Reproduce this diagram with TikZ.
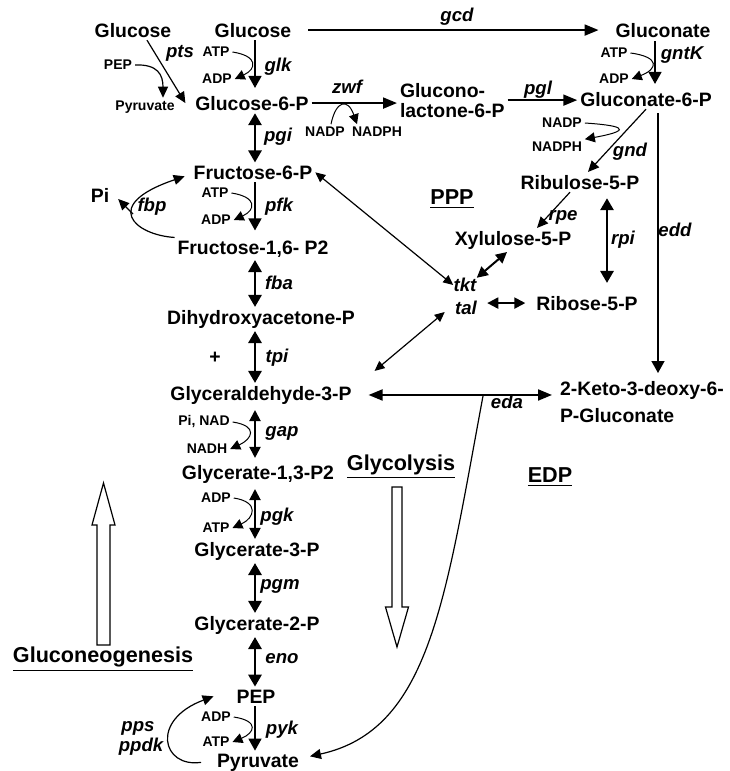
\documentclass[tikz,border=0pt]{standalone}
\usepackage{fontspec}
\setmainfont{Liberation Sans}
\usetikzlibrary{arrows.meta}

\begin{document}
\begin{tikzpicture}[x=0.5pt,y=-0.5pt,
  met/.style={font=\fontsize{9.7}{10}\selectfont\bfseries,inner sep=0pt,outer sep=1.5pt,anchor=base},
  cof/.style={font=\fontsize{7}{8}\selectfont\bfseries,inner sep=0pt,outer sep=1.5pt},
  enz/.style={font=\fontsize{9.3}{10}\selectfont\bfseries\itshape,inner sep=0pt},
  lbl/.style={font=\fontsize{10.8}{12}\selectfont\bfseries,inner sep=0pt},
  dbl/.style={line width=1.4pt,{Triangle[length=6pt,width=6.5pt]}-{Triangle[length=6pt,width=6.5pt]}},
  dblm/.style={line width=1pt,{Triangle[length=5.5pt,width=5.5pt]}-{Triangle[length=5.5pt,width=5.5pt]}},
  dblg/.style={line width=1pt,{Triangle[length=7pt,width=5.5pt]}-{Triangle[length=7pt,width=5.5pt]}},
  lnk/.style={line width=0.6pt,{Triangle[length=5pt,width=4.5pt]}-{Triangle[length=5pt,width=4.5pt]}},
  one/.style={line width=0.7pt,-{Triangle[length=6pt,width=6.5pt]}},
  big/.style={line width=1pt,-{Triangle[length=7pt,width=5.5pt]}},
  arr/.style={line width=0.6pt,-{Triangle[length=5.5pt,width=5pt]}},
  side/.style={line width=0.5pt,-{Triangle[length=5pt,width=5pt]}},
  hollow/.style={draw,line width=0.6pt,fill=white}]
\useasboundingbox (0,0) rectangle (729,771);
% columns of the vertical arrows
\coordinate (col) at (255,0); \coordinate (colG) at (655,0);
\coordinate (colE) at (658,0); \coordinate (colP) at (607,0);
% glycolysis column
\node[met] (glcA) at (133,37) {Glucose};
\node[met] (glc) at (253,37) {Glucose};
\node[met] (g6p) at (252,110) {Glucose-6-P};
\node[met] (f6p) at (253,179) {Fructose-6-P};
\node[met] (fbp2) at (253,254) {Fructose-1,6- P2};
\node[met] (dhap) at (261,324) {Dihydroxyacetone-P};
\node[met] (ga3p) at (261,400) {Glyceraldehyde-3-P};
\node[met] (bpg) at (258,479) {Glycerate-1,3-P2};
\node[met] (pg3) at (257,556) {Glycerate-3-P};
\node[met] (pg2) at (257,630) {Glycerate-2-P};
\node[met] (pep) at (256,703) {PEP};
\node[met] (pyr) at (258,767) {Pyruvate};
\node[met] (pi) at (100,202) {Pi};
\node[met,anchor=center] (plus) at (215,358) {+};
% PPP and EDP side
\node[met] (gnt) at (663,38) {Gluconate};
\node[met] (gn6p) at (646,106) {Gluconate-6-P};
\node[met,anchor=north west,align=left] (glac) at (397,80) {Glucono-\\lactone-6-P};
\node[met] (ru5p) at (580,189) {Ribulose-5-P};
\node[met] (xu5p) at (513,245) {Xylulose-5-P};
\node[met] (r5p) at (587,310) {Ribose-5-P};
\node[met,anchor=north west,align=left,font=\fontsize{9.7}{13.5}\selectfont\bfseries] (kdpg) at (557,378) {2-Keto-3-deoxy-6-\\P-Gluconate};
% cofactors
\node[cof] (pepS) at (118,65) {PEP};
\node[cof] (pyrS) at (145,107) {Pyruvate};
\node[cof] (atp1) at (216,52) {ATP};
\node[cof] (adp1) at (217,79) {ADP};
\node[cof] (nadp1) at (325,132) {NADP};
\node[cof] (nadph1) at (377,132) {NADPH};
\node[cof] (atp2) at (614,53) {ATP};
\node[cof] (adp2) at (614,79) {ADP};
\node[cof] (nadp2) at (562,123) {NADP};
\node[cof] (nadph2) at (557,147) {NADPH};
\node[cof] (atp3) at (215,193) {ATP};
\node[cof] (adp3) at (216,220) {ADP};
\node[cof] (pinad) at (204,422) {Pi, NAD};
\node[cof] (nadh) at (207,449) {NADH};
\node[cof] (adp4) at (216,498) {ADP};
\node[cof] (atp4) at (216,528) {ATP};
\node[cof] (adp5) at (216,717) {ADP};
\node[cof] (atp5) at (216,742) {ATP};
% enzymes
\node[enz] (pts) at (180,53) {pts};
\node[enz] (glk) at (278,67) {glk};
\node[enz] (gcd) at (457,17) {gcd};
\node[enz] (gntK) at (682,55) {gntK};
\node[enz] (zwf) at (347,87) {zwf};
\node[enz] (pgl) at (538,90) {pgl};
\node[enz] (pgi) at (278,137) {pgi};
\node[enz] (gnd) at (630,152) {gnd};
\node[enz] (pfk) at (279,207) {pfk};
\node[enz] (fbp) at (152,207) {fbp};
\node[enz] (rpe) at (563,217) {rpe};
\node[enz] (edd) at (675,230) {edd};
\node[enz] (rpi) at (623,240) {rpi};
\node[enz] (fba) at (279,283) {fba};
\node[enz] (tkt) at (465,285) {tkt};
\node[enz] (tal) at (466,308) {tal};
\node[enz] (tpi) at (277,358) {tpi};
\node[enz] (eda) at (507,402) {eda};
\node[enz] (gap) at (282,433) {gap};
\node[enz] (pgk) at (277,517) {pgk};
\node[enz] (pgm) at (280,586) {pgm};
\node[enz] (eno) at (282,659) {eno};
\node[enz] (pyk) at (282,730) {pyk};
\node[enz] (pps) at (138,728) {pps};
\node[enz] (ppdk) at (141,747) {ppdk};
% pathway names
\node[lbl] (ppp) at (452,199) {\underline{PPP}};
\node[lbl] (glyc) at (401,467) {\underline{Glycolysis}};
\node[lbl] (edp) at (550,477) {\underline{EDP}};
\node[lbl] (gng) at (103,659) {\underline{Gluconeogenesis}};
% main column arrows
\draw[one,shorten >=2.5pt] (col |- glc.south) -- (col |- g6p.north);
\draw[dbl] (col |- g6p.south) -- (col |- f6p.north);
\draw[one,shorten >=3.5pt] (col |- f6p.south) -- (col |- fbp2.north);
\draw[dbl] (col |- fbp2.south) -- (col |- dhap.north);
\draw[dbl] (col |- dhap.south) -- (col |- ga3p.north);
\draw[dblm,shorten <=1.5pt,shorten >=2pt] (col |- ga3p.south) -- (col |- bpg.north);
\draw[dblm,shorten <=1.5pt] (col |- bpg.south) -- (col |- pg3.north);
\draw[dbl] (col |- pg3.south) -- (col |- pg2.north);
\draw[dbl] (col |- pg2.south) -- (col |- pep.north);
\draw[one] (col |- pep.south) -- (col |- pyr.north);
% cofactor curves
\draw[side] (atp1.east) .. controls +(26,4) and +(22,-10) .. (adp1.east);
\draw[side] (atp3.east) .. controls +(26,4) and +(22,-10) .. (adp3.east);
\draw[side] (pinad.east) .. controls +(26,4) and +(22,-10) .. (nadh.east);
\draw[side] (adp4.east) .. controls +(26,4) and +(22,-10) .. (atp4.east);
\draw[side] (adp5.east) .. controls +(26,4) and +(22,-9) .. (atp5.east);
\draw[side] (atp2.east) .. controls +(30,4) and +(26,-10) .. (adp2.east);
\draw[side] ([xshift=3pt]nadp1.north) .. controls (336,100) and (348,98) .. ([xshift=-10pt]nadph1.north);
\draw[side] (nadp2.east) .. controls (615,125) and (640,129) .. (nadph2.north east);
% pts
\draw[arr] ([xshift=7pt]glcA.south) -- ([xshift=-3.5pt]g6p.west);
\draw[arr] (pepS.east) .. controls (158,64) and (163,75) .. ([xshift=9pt]pyrS.north);
% oxidative branch
\draw[big,shorten <=7pt,shorten >=7pt] (glc.east) -- (glc.east -| gnt.west);
\draw[one,shorten >=2.5pt] (colG |- gnt.south) -- (colG |- gn6p.north);
\draw[big] (g6p.east) -- (g6p.east -| glac.west);
\draw[big] (glac.east) -- (glac.east -| gn6p.west);
\draw[arr] (gn6p.south) -- ([xshift=4pt]ru5p.north);
\draw[one,shorten <=2pt,shorten >=2.5pt] (colE |- gn6p.south) -- (colE |- kdpg.north);
% non-oxidative PPP
\draw[arr] ([xshift=-5pt]ru5p.south) -- ([xshift=12pt]xu5p.north);
\draw[dbl,shorten <=3pt,shorten >=5pt] (colP |- ru5p.south) -- (colP |- r5p.north);
\draw[dblm] ([xshift=-3pt]xu5p.south) -- (tkt.north east);
\draw[dblm,shorten <=5pt,shorten >=4pt] (tal.east |- r5p.west) -- (r5p.west);
\draw[lnk] (f6p.east) -- (tkt.west);
\draw[lnk] ([shift={(-5pt,-2pt)}]tal.west) -- ([shift={(10pt,6pt)}]ga3p.north east);
% EDP
\draw[dblg,shorten <=7pt,shorten >=2.5pt] (ga3p.east) -- (ga3p.east -| kdpg.west);
\coordinate (edaJ) at (483,396);
\draw[arr] (edaJ) .. controls (445,600) and (430,730) .. ([shift={(4pt,3pt)}]pyr.east);
% fbp and pps
\draw[arr] (fbp2.north west) .. controls (135,235) and (100,205) .. ([shift={(-3pt,-2pt)}]f6p.west);
\coordinate (fbpJ) at (133,214);
\draw[arr] (fbpJ) -- ([shift={(3pt,-2pt)}]pi.east);
\draw[arr] ([xshift=-6.5pt]pyr.west) .. controls (162,768) and (150,720) .. ([xshift=-10pt]pep.west);
% direction arrows
\draw[hollow] (392,487) -- (402,487) -- (402,607) -- (408.5,607) -- (397,647) -- (385.5,607) -- (392,607) -- cycle;
\draw[hollow] (97,645) -- (110,645) -- (110,525) -- (115,525) -- (103.5,483) -- (92,525) -- (97,525) -- cycle;
\end{tikzpicture}
\end{document}
